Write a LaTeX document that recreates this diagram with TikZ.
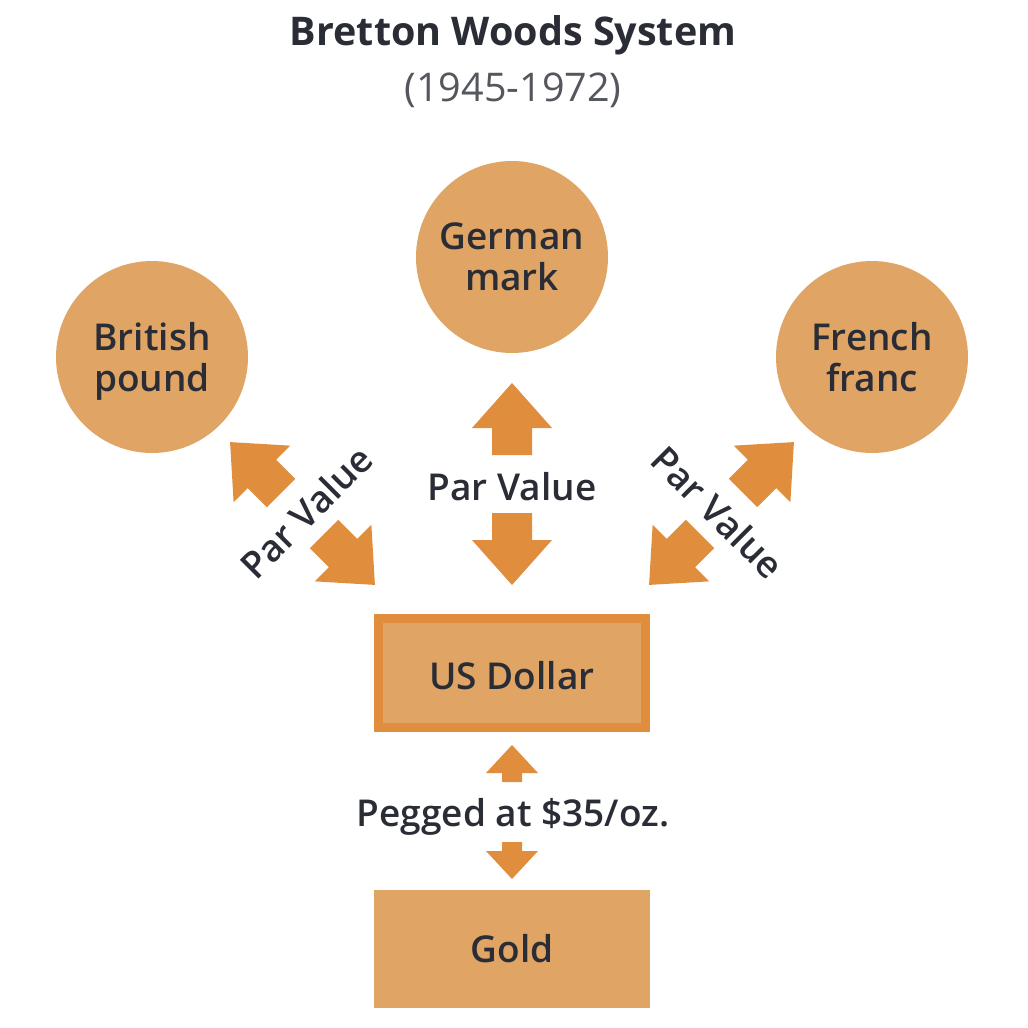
\documentclass[tikz,border=0pt]{standalone}
\usepackage{fontspec}
\setmainfont{Open Sans}
\IfFontExistsTF{Open Sans SemiBold}{\newfontfamily\semib{Open Sans SemiBold}\def\lsize{37}}{%
  \IfFontExistsTF{Open Sans Semibold}{\newfontfamily\semib{Open Sans Semibold}\def\lsize{37}}{%
    \def\semib{\bfseries}\def\lsize{36}}}
\begin{document}
\begin{tikzpicture}[x=1pt,y=-1pt,
  every node/.style={text=txtc},
  lbl/.style={font=\semib\fontsize{\lsize}{41}\selectfont, align=center},
  circ/.style={circle, fill=tan, minimum size=192pt, inner sep=0pt, lbl},
  box/.style={rectangle, fill=tan, minimum width=276pt, minimum height=118pt, inner sep=0pt, lbl},
  bigarrow/.style={fill=arrowc},
]
\definecolor{tan}{HTML}{E0A565}
\definecolor{arrowc}{HTML}{E08E3E}
\definecolor{txtc}{HTML}{2B2D36}
\useasboundingbox (0,0) rectangle (1028,1028);
\fill[white] (0,0) rectangle (1028,1028);

\node[font=\bfseries\fontsize{39.5}{44}\selectfont] (title) at (513,35) {Bretton Woods System};
\node[font=\fontsize{39.5}{44}\selectfont, text=txtc!80] (years) at (513,90) {(1945-1972)};

\node[circ] (mark) at (512,257) {German\\mark};
\node[circ] (pound) at (152,357) {British\\\raisebox{0pt}[\height][0pt]{pound}};
\node[circ] (franc) at (872,357) {French\\franc};

\node[box, draw=arrowc, line width=9pt, minimum width=267pt, minimum height=109pt, text depth=0pt] (usd) at (512,673) {\raisebox{-4pt}{US Dollar}};
\node[box] (gold) at (512,949) {Gold};

\node[lbl] (pv) at (512,487) {Par Value};
\node[lbl, rotate=45] (pvl) at (306,512) {Par Value};
\node[lbl, rotate=-45] (pvr) at (718,512) {Par Value};
\node[lbl] (peg) at (513,817) {Pegged at \$35/oz.};

% arrows: tail at origin, pointing along +x
\def\bigarr{(0,-20) -- (27,-20) -- (27,-40) -- (72,0) -- (27,40) -- (27,20) -- (0,20) -- cycle}
\def\smallarr{(0,-10) -- (9,-10) -- (9,-26) -- (37,0) -- (9,26) -- (9,10) -- (0,10) -- cycle}
\fill[bigarrow, shift={(512,455)}, rotate=90] \bigarr;
\fill[bigarrow, shift={(512,513)}, rotate=-90] \bigarr;
\fill[bigarrow, shift={(281,493)}, rotate=135] \bigarr;
\fill[bigarrow, shift={(324,534)}, rotate=-45] \bigarr;
\fill[bigarrow, shift={(743,493)}, rotate=45] \bigarr;
\fill[bigarrow, shift={(700,534)}, rotate=-135] \bigarr;
\fill[bigarrow, shift={(512,782)}, rotate=90] \smallarr;
\fill[bigarrow, shift={(512,842)}, rotate=-90] \smallarr;
\end{tikzpicture}
\end{document}
